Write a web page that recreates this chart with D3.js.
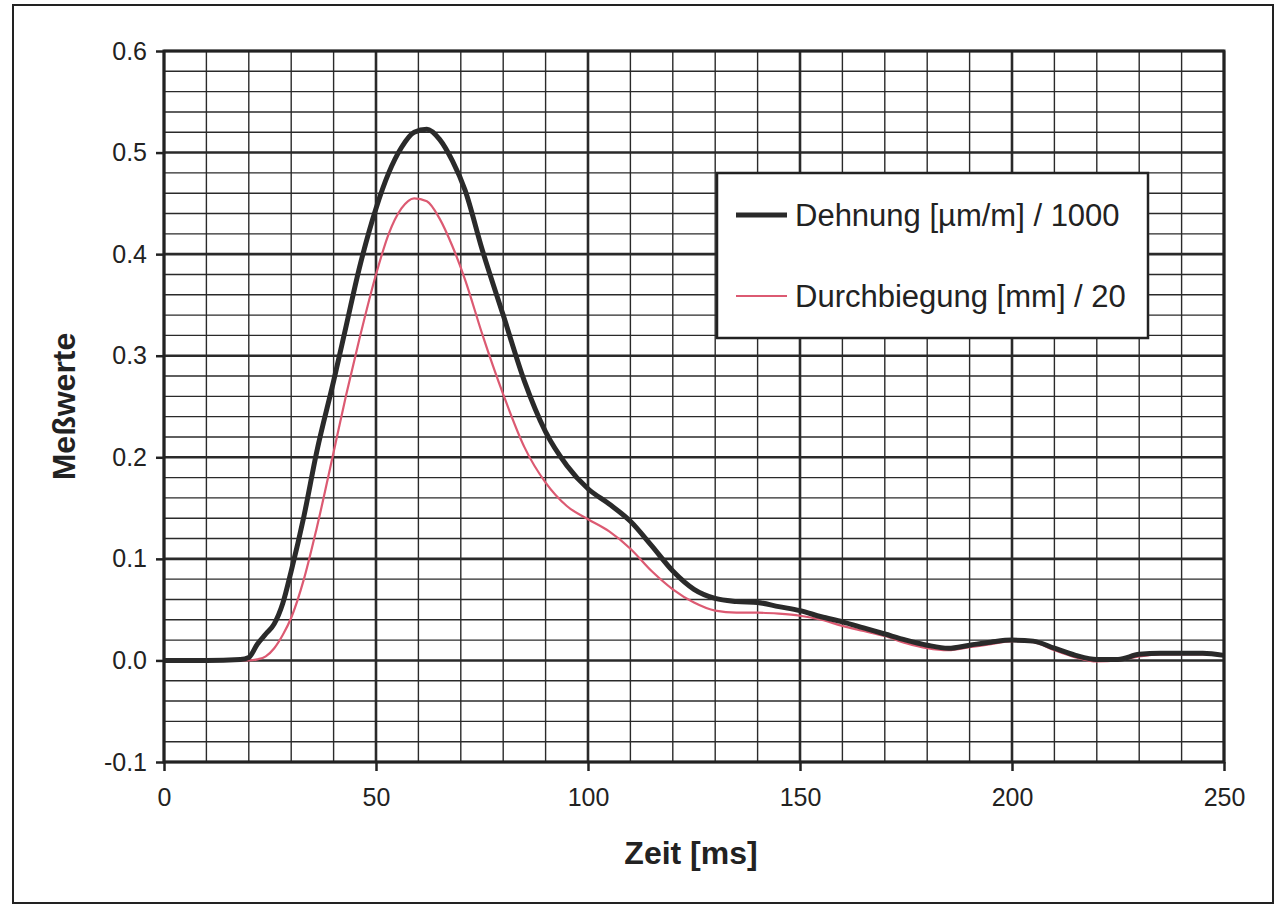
<!DOCTYPE html>
<html lang="de">
<head>
<meta charset="UTF-8">
<title>Meßwerte</title>
<script src="https://d3js.org/d3.v7.min.js"></script>
<style>
    body { margin: 0; background: #fff; }
    svg text { font-family: "Liberation Sans", Arial, sans-serif; fill: #222; }
</style>
</head>
<body>
<svg id="chart" width="1277" height="906"></svg>
<script>
// time axis [ms]
const timeMs = [0, 10, 18, 20, 22, 24, 26, 28, 30, 33, 36, 40, 43, 46, 50, 53, 56, 59, 62, 65, 68, 71, 75, 80, 85, 90, 95,
    100, 105, 110, 115, 120, 125, 130, 135, 140, 145, 150, 155, 160, 165, 170, 175, 180, 185, 190, 195,
    200, 205, 210, 215, 220, 225, 230, 235, 240, 245, 250];

// Dehnung [µm/m] / 1000
const dehnung = [0, 0, 0.001, 0.003, 0.016, 0.026, 0.036, 0.056, 0.088, 0.142, 0.205, 0.275, 0.33, 0.385, 0.445, 0.48, 0.505, 0.52, 0.523, 0.513, 0.492, 0.463, 0.405, 0.34, 0.275, 0.225, 0.192,
    0.169, 0.154, 0.137, 0.113, 0.088, 0.07, 0.061, 0.058, 0.057, 0.053, 0.049, 0.043, 0.038, 0.032, 0.026, 0.02, 0.015, 0.012, 0.015, 0.018,
    0.02, 0.019, 0.012, 0.005, 0.001, 0.001, 0.006, 0.007, 0.007, 0.007, 0.005];

// Durchbiegung [mm] / 20
const durchbiegung = [0, 0, 0, 0, 0.001, 0.004, 0.012, 0.025, 0.042, 0.08, 0.13, 0.205, 0.262, 0.315, 0.38, 0.42, 0.445, 0.455, 0.452, 0.435, 0.408, 0.375, 0.322, 0.262, 0.21, 0.175, 0.152,
    0.139, 0.127, 0.11, 0.088, 0.07, 0.057, 0.049, 0.047, 0.047, 0.046, 0.044, 0.04, 0.034, 0.029, 0.024, 0.017, 0.012, 0.01, 0.013, 0.016,
    0.019, 0.018, 0.01, 0.003, -0.001, 0, 0.004, 0.006, 0.006, 0.006, 0.005];

const xTicks = [0, 50, 100, 150, 200, 250];
const yTicks = [-0.1, 0, 0.1, 0.2, 0.3, 0.4, 0.5, 0.6];
const seriesNames = ["Dehnung [µm/m] / 1000", "Durchbiegung [mm] / 20"];

const svg = d3.select("#chart");
const plotLeft = 164, plotRight = 1224, plotTop = 51, plotBottom = 762;

const x = d3.scaleLinear().domain([0, 250]).range([plotLeft, plotRight]);
const y = d3.scaleLinear().domain([-0.1, 0.6]).range([plotBottom, plotTop]);

// outer frame
svg.append("rect")
    .attr("x", 13).attr("y", 5).attr("width", 1260).attr("height", 898)
    .attr("fill", "none").attr("stroke", "#222").attr("stroke-width", 2);

// grid (minor every 10 ms / 0.02, major every 50 ms / 0.1)
const g = svg.append("g");
g.selectAll(".vgrid").data(d3.range(0, 251, 10))
    .enter().append("line")
    .attr("x1", d => x(d)).attr("x2", d => x(d))
    .attr("y1", plotTop).attr("y2", plotBottom)
    .attr("stroke", "#2a2a2a").attr("stroke-width", d => d % 50 === 0 ? 2.6 : 1.4);

g.selectAll(".hgrid").data(d3.range(-5, 31))
    .enter().append("line")
    .attr("x1", plotLeft).attr("x2", plotRight)
    .attr("y1", d => y(d * 0.02)).attr("y2", d => y(d * 0.02))
    .attr("stroke", "#2a2a2a")
    .attr("stroke-width", d => d % 5 === 0 ? 2.6 : 1.4);

// axes with outside ticks
const fmtY = d => d3.format(".1f")(d).replace("−", "-");

svg.append("g")
    .attr("transform", `translate(0,${plotBottom})`)
    .call(d3.axisBottom(x).tickValues(xTicks).tickSize(9).tickPadding(17).tickFormat(d3.format("d")))
    .call(a => a.select(".domain").remove())
    .call(a => a.selectAll("line").attr("stroke", "#222").attr("stroke-width", 2.5))
    .call(a => a.selectAll("text").attr("font-size", 25).attr("fill", "#222")
        .attr("font-family", "'Liberation Sans', Arial, sans-serif"));

svg.append("g")
    .attr("transform", `translate(${plotLeft},0)`)
    .call(d3.axisLeft(y).tickValues(yTicks).tickSize(8).tickPadding(9).tickFormat(fmtY))
    .call(a => a.select(".domain").remove())
    .call(a => a.selectAll("line").attr("stroke", "#222").attr("stroke-width", 2.5))
    .call(a => a.selectAll("text").attr("font-size", 25).attr("fill", "#222")
        .attr("font-family", "'Liberation Sans', Arial, sans-serif"));

// curves
const line = vals => d3.line()
    .x((d, i) => x(timeMs[i]))
    .y(d => y(d))
    .curve(d3.curveMonotoneX)(vals);

svg.append("path").attr("d", line(durchbiegung))
    .attr("fill", "none").attr("stroke", "#dc5a72").attr("stroke-width", 2.2);
svg.append("path").attr("d", line(dehnung))
    .attr("fill", "none").attr("stroke", "#2a2a2a").attr("stroke-width", 5).attr("stroke-linejoin", "round");

// plot border
svg.append("rect")
    .attr("x", plotLeft).attr("y", plotTop).attr("width", plotRight - plotLeft).attr("height", plotBottom - plotTop)
    .attr("fill", "none").attr("stroke", "#222").attr("stroke-width", 3);

// axis titles
svg.append("text")
    .attr("x", (plotLeft + plotRight) / 2 - 3).attr("y", 864)
    .attr("text-anchor", "middle").attr("font-size", 32).attr("font-weight", "bold")
    .text("Zeit [ms]");

svg.append("text")
    .attr("transform", `translate(75,${(plotTop + plotBottom) / 2}) rotate(-90)`)
    .attr("text-anchor", "middle").attr("font-size", 32).attr("font-weight", "bold")
    .text("Meßwerte");

// legend
const lg = svg.append("g");
lg.append("rect")
    .attr("x", 717).attr("y", 173).attr("width", 431).attr("height", 165)
    .attr("fill", "#fff").attr("stroke", "#222").attr("stroke-width", 2.5);

const legendRows = [
    { name: seriesNames[0], color: "#2a2a2a", width: 5, y: 215 },
    { name: seriesNames[1], color: "#dc5a72", width: 2.2, y: 296 }
];
legendRows.forEach(r => {
    lg.append("line")
        .attr("x1", 736).attr("x2", 787).attr("y1", r.y).attr("y2", r.y)
        .attr("stroke", r.color).attr("stroke-width", r.width);
    lg.append("text")
        .attr("x", 795).attr("y", r.y + 11)
        .attr("font-size", 31)
        .text(r.name);
});
</script>
</body>
</html>
